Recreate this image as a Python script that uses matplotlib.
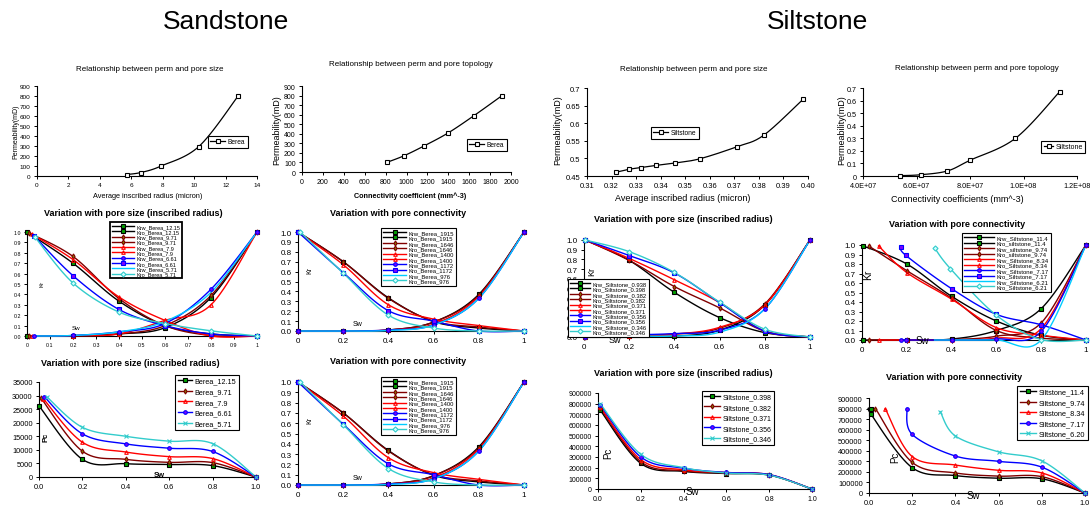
import numpy as np
import matplotlib
matplotlib.use("Agg")
import matplotlib.pyplot as plt
from matplotlib.lines import Line2D
from matplotlib.ticker import FixedLocator, FuncFormatter

plt.rcParams['font.family'] = ['Liberation Sans', 'DejaVu Sans']

W, H = 1090, 510

# ---------------- data ----------------
# row 1: permeability vs pore size / topology
berea_radius = [5.71, 6.61, 7.9, 10.3, 12.8]
berea_perm_r = [15, 35, 100, 295, 800]
berea_conn = [810, 976, 1172, 1400, 1646, 1915]
berea_perm_c = [100, 170, 275, 410, 590, 800]
silt_radius = [0.322, 0.327, 0.332, 0.338, 0.346, 0.356, 0.371, 0.382, 0.398]
silt_perm_r = [0.461, 0.469, 0.474, 0.480, 0.487, 0.499, 0.533, 0.566, 0.668]
silt_conn = [5.4e7, 6.15e7, 7.15e7, 8.0e7, 9.7e7, 1.135e8]
silt_perm_c = [0.003, 0.01, 0.04, 0.125, 0.30, 0.67]

# Berea, Kr vs pore size
bs_names = ['12.15', '9.71', '7.9', '6.61', '5.71']
bs_sw = [[0.0, 0.2, 0.4, 0.6, 0.8, 1.0],
         [0.01, 0.2, 0.4, 0.6, 0.8, 1.0],
         [0.02, 0.2, 0.4, 0.6, 0.8, 1.0],
         [0.03, 0.2, 0.4, 0.6, 0.8, 1.0],
         [0.035, 0.2, 0.4, 0.6, 0.8, 1.0]]
bs_krw = [[0, 0.003, 0.02, 0.08, 0.37, 1.0],
          [0, 0.003, 0.02, 0.10, 0.39, 1.0],
          [0, 0.003, 0.02, 0.15, 0.30, 1.0],
          [0, 0.005, 0.04, 0.12, 0.45, 1.0],
          [0, 0.005, 0.04, 0.14, 0.42, 1.0]]
bs_kro = [[1.0, 0.70, 0.335, 0.10, 0.02, 0],
          [0.99, 0.765, 0.36, 0.10, 0.005, 0],
          [0.98, 0.735, 0.375, 0.15, 0.0, 0],
          [0.965, 0.58, 0.255, 0.10, 0.02, 0],
          [0.95, 0.51, 0.23, 0.12, 0.05, 0]]

# Berea, Kr vs connectivity
bc_names = ['1915', '1646', '1400', '1172', '976']
bc_sw = [[0.0, 0.2, 0.4, 0.6, 0.8, 1.0],
         [0.0, 0.2, 0.4, 0.6, 0.8, 1.0],
         [0.0, 0.2, 0.4, 0.6, 0.8, 1.0],
         [0.0, 0.2, 0.4, 0.6, 0.8, 1.0],
         [0.01, 0.2, 0.4, 0.6, 0.8, 1.0]]
bc_krw = [[0, 0, 0.01, 0.09, 0.37, 1.0],
          [0, 0, 0.01, 0.09, 0.36, 1.0],
          [0, 0, 0.01, 0.07, 0.35, 1.0],
          [0, 0, 0.01, 0.06, 0.33, 1.0],
          [0, 0, 0.005, 0.06, 0.33, 1.0]]
bc_kro = [[1.0, 0.70, 0.335, 0.095, 0.03, 0],
          [1.0, 0.70, 0.33, 0.10, 0.04, 0],
          [1.0, 0.67, 0.265, 0.12, 0.055, 0],
          [1.0, 0.59, 0.205, 0.10, 0.0, 0],
          [1.0, 0.585, 0.16, 0.03, 0.0, 0]]

# Siltstone, Kr vs pore size
ss_krw_names = ['0.938', '0.382', '0.371', '0.356', '0.346']
ss_kro_names = ['0.398', '0.382', '0.371', '0.356', '0.346']
ss_sw = [0.005, 0.2, 0.4, 0.6, 0.8, 1.0]
ss_krw = [[0, 0.01, 0.01, 0.07, 0.33, 1.0],
          [0, 0.015, 0.03, 0.09, 0.34, 1.0],
          [0, 0.015, 0.03, 0.10, 0.33, 1.0],
          [0, 0.02, 0.035, 0.07, 0.29, 1.0],
          [0, 0.01, 0.01, 0.05, 0.29, 1.0]]
ss_kro = [[1.0, 0.79, 0.46, 0.20, 0.045, 0],
          [1.0, 0.79, 0.52, 0.30, 0.06, 0],
          [1.0, 0.81, 0.59, 0.355, 0.06, 0],
          [1.0, 0.84, 0.66, 0.355, 0.06, 0],
          [1.0, 0.88, 0.665, 0.36, 0.08, 0]]

# Siltstone, Kr vs connectivity
sc_krw_names = ['Krw_Siltstone_11.4', 'Krw_siltstone_9.74', 'Krw_Siltstone_8.34',
                'Krw_Siltstone_7.17', 'Krw_Siltstone_6.21']
sc_kro_names = ['Kro_siltstone_11.4', 'Kro_siltstone_9.74', 'Kro_Siltstone_8.34',
                'Kro_Siltstone_7.17', 'Kro_Siltstone_6.21']
sc_sw = [[0.005, 0.2, 0.4, 0.6, 0.8, 1.0],
         [0.03, 0.2, 0.4, 0.6, 0.8, 1.0],
         [0.074, 0.2, 0.4, 0.6, 0.8, 1.0],
         [0.174, 0.196, 0.4, 0.6, 0.8, 1.0],
         [0.324, 0.395, 0.6, 0.8, 1.0]]
sc_krw = [[0, 0, 0.01, 0.10, 0.33, 1.0],
          [0, 0, 0.005, 0.04, 0.18, 1.0],
          [0, 0, 0.0, 0.02, 0.12, 1.0],
          [0, 0, 0, 0.01, 0.09, 1.0],
          [0, 0, 0, 0.0, 1.0]]
sc_kro = [[0.99, 0.80, 0.46, 0.20, 0.05, 0],
          [0.99, 0.73, 0.44, 0.10, 0.02, 0],
          [0.99, 0.71, 0.43, 0.13, 0.05, 0],
          [0.98, 0.89, 0.54, 0.27, 0.16, 0],
          [0.97, 0.75, 0.26, 0.005, 0]]

# Berea, Pc vs pore size
bp_sw = [[0.0, 0.2, 0.4, 0.6, 0.8, 1.0],
         [0.01, 0.2, 0.4, 0.6, 0.8, 1.0],
         [0.02, 0.2, 0.4, 0.6, 0.8, 1.0],
         [0.025, 0.2, 0.4, 0.6, 0.8, 1.0],
         [0.035, 0.2, 0.4, 0.6, 0.8, 1.0]]
bp_pc = [[26200, 6500, 4900, 4600, 4200, 0],
         [29000, 9500, 6500, 5400, 5300, 0],
         [28800, 12800, 9200, 7500, 6800, 0],
         [29500, 15900, 12200, 10600, 9400, 0],
         [29600, 18300, 15000, 13200, 12300, 0]]

# Siltstone, Pc vs pore size
sp_names = ['0.398', '0.382', '0.371', '0.356', '0.346']
sp_sw = [0.01, 0.2, 0.4, 0.6, 0.8, 1.0]
sp_pc = [[740000, 240000, 165000, 145000, 130000, 0],
         [760000, 255000, 170000, 150000, 132000, 0],
         [770000, 275000, 180000, 155000, 135000, 0],
         [790000, 300000, 195000, 155000, 135000, 0],
         [800000, 325000, 200000, 150000, 130000, 0]]

# Siltstone, Pc vs connectivity
spc_names = ['11.4', '9.74', '8.34', '7.17', '6.20']
spc_sw = [[0.01, 0.01, 0.2, 0.4, 0.6, 0.8, 1.0],
          [0.03, 0.2, 0.4, 0.6, 0.8, 1.0],
          [0.075, 0.2, 0.4, 0.6, 0.8, 1.0],
          [0.175, 0.2, 0.4, 0.6, 0.8, 1.0],
          [0.33, 0.4, 0.6, 0.8, 1.0]]
spc_pc = [[800000, 745000, 240000, 165000, 140000, 135000, 0],
          [800000, 290000, 190000, 160000, 155000, 0],
          [800000, 345000, 265000, 215000, 190000, 0],
          [800000, 555000, 350000, 300000, 245000, 0],
          [770000, 540000, 390000, 305000, 0]]

# series styles: (line colour, marker, marker face)
krw_styles = [('black', 's', '#00a000'), ('#800000', 'd', '#808000'),
              ('red', '^', 'none'), ('blue', 'o', '#8000ff'), ('#00ccff', '', 'none')]
kro_styles = [('black', 's', '#00a000'), ('#800000', 'd', '#808000'),
              ('red', '^', 'none'), ('blue', 's', '#8000ff'), ('#33cccc', 'D', '#ccffff')]
pc_styles = [('black', 's', '#00a000'), ('#800000', 'd', '#808000'),
             ('red', '^', 'none'), ('blue', 'o', '#8000ff'), ('#33cccc', 'x', '#33cccc')]

fig = plt.figure(figsize=(W / 100, H / 100), dpi=100)


def smooth(x, y, n=16):
    # Excel-like smoothed line (Bezier through the points)
    p = np.column_stack([x, y]).astype(float)
    p = np.vstack([p[0], p, p[-1]])
    out = [p[1]]
    t = np.linspace(0, 1, n + 1)[1:, None]
    for i in range(1, len(p) - 2):
        p0, p1, p2, p3 = p[i - 1], p[i], p[i + 1], p[i + 2]
        c1 = p1 + (p2 - p0) / 6
        c2 = p2 - (p3 - p1) / 6
        seg = (1 - t) ** 3 * p1 + 3 * (1 - t) ** 2 * t * c1 + 3 * (1 - t) * t ** 2 * c2 + t ** 3 * p2
        out.extend(seg)
    out = np.array(out)
    return out[:, 0], out[:, 1]


def series(ax, x, y, style, label, ms=2.6, lw=1.0):
    color, marker, mfc = style
    xs, ys = smooth(x, y)
    ax.plot(xs, ys, color=color, lw=lw, clip_on=False, zorder=3)
    if marker:
        ax.plot(x, y, ls='none', marker=marker, ms=ms, mfc=mfc, mec=color, mew=0.8,
                clip_on=False, zorder=4)
    return Line2D([], [], color=color, lw=lw, marker=marker or None, ms=ms, mfc=mfc,
                  mec=color, mew=0.8, label=label)


def make_ax(l, t, r, b, xlim, ylim, xticks, yticks, xfmt, yfmt, fs):
    ax = fig.add_axes([l / W, 1 - b / H, (r - l) / W, (b - t) / H])
    ax.patch.set_alpha(0)
    for s in ['top', 'right']:
        ax.spines[s].set_visible(False)
    for s in ['left', 'bottom']:
        ax.spines[s].set_linewidth(0.8)
    ax.set_xlim(*xlim)
    ax.set_ylim(*ylim)
    ax.xaxis.set_major_locator(FixedLocator(xticks))
    ax.yaxis.set_major_locator(FixedLocator(yticks))
    ax.xaxis.set_major_formatter(FuncFormatter(lambda v, p: xfmt(v)))
    ax.yaxis.set_major_formatter(FuncFormatter(lambda v, p: yfmt(v)))
    ax.tick_params(direction='out', length=2.5, width=0.7, labelsize=fs, pad=2)
    return ax


def legend(ax, handles, x, y, fs, spacing=0.05, hl=2.6, lw=0.8, loc='upper left', tp=0.4):
    leg = ax.legend(handles=handles, loc=loc, bbox_to_anchor=(x / W, 1 - y / H),
                    bbox_transform=fig.transFigure, borderaxespad=0, fontsize=fs,
                    frameon=True, fancybox=False, edgecolor='black', framealpha=1,
                    labelspacing=spacing, handlelength=hl, handletextpad=tp,
                    borderpad=0.35, numpoints=1)
    leg.get_frame().set_linewidth(lw)
    leg.set_zorder(10)
    return leg


def ftext(x, y, s, fs, **kw):
    fig.text(x / W, 1 - y / H, s, fontsize=fs, ha='center', va='center', **kw)


fg = lambda v: '%g' % v
f1 = lambda v: '%.1f' % v
fd = lambda v: '%d' % v
fe = lambda v: '{:.1E}'.format(v)

ftext(226, 22, 'Sandstone', 19)
ftext(817, 22, 'Siltstone', 19)

# ---------- row 1 ----------
ax = make_ax(37, 87, 257, 177, (0, 14), (0, 900), range(0, 15, 2), range(0, 901, 100), fd, fd, 4.6)
h = series(ax, berea_radius, berea_perm_r, ('black', 's', 'white'), 'Berea', lw=0.9)
legend(ax, [h], 208, 137, 4.8, hl=2.2)
ftext(150, 70, 'Relationship between perm and pore size', 5.8)
ftext(148, 197, 'Average inscribed radius (micron)', 5.3)
ftext(16, 132, 'Permeability(mD)', 5, rotation=90)

ax = make_ax(302, 87, 511, 173, (0, 2000), (0, 900), range(0, 2001, 200), range(0, 901, 100), fd, fd, 5)
h = series(ax, berea_conn, berea_perm_c, ('black', 's', 'white'), 'Berea', lw=0.9)
legend(ax, [h], 467, 140, 4.8, hl=2.2)
ftext(411, 65, 'Relationship between perm and pore topology', 5.8)
ftext(410, 196, 'Connectivity coefficient (mm^-3)', 5.2, weight='bold')
ftext(277, 130, 'Permeability(mD)', 6.5, rotation=90)

ax = make_ax(587, 89, 808, 177, (0.31, 0.40), (0.45, 0.7), np.arange(0.31, 0.4001, 0.01),
             np.arange(0.45, 0.7001, 0.05), lambda v: '%.2f' % v, fg, 5.5)
h = series(ax, silt_radius, silt_perm_r, ('black', 's', 'white'), 'Siltstone', lw=0.9)
legend(ax, [h], 651, 128, 4.8, hl=2.2)
ftext(694, 70, 'Relationship between perm and pore size', 5.8)
ftext(683, 199, 'Average inscribed radius (micron)', 6.5)
ftext(558, 130, 'Permeability(mD)', 6.5, rotation=90)

ax = make_ax(863, 89, 1077, 177, (4e7, 1.2e8), (0, 0.7), np.arange(4e7, 1.21e8, 2e7),
             np.arange(0, 0.7001, 0.1), fe, fg, 5.2)
h = series(ax, silt_conn, silt_perm_c, ('black', 's', 'white'), 'Siltstone', lw=0.9)
legend(ax, [h], 1085, 142, 5.0, hl=1.4, loc='upper right', tp=0.25)
ftext(977, 68, 'Relationship between perm and pore topology', 5.8)
ftext(957, 200, 'Connectivity coefficients (mm^-3)', 6.5)
ftext(842, 130, 'Permeability(mD)', 6.5, rotation=90)

# ---------- row 2 ----------
ax = make_ax(27, 233, 257, 337, (0, 1), (0, 1), np.arange(0, 1.001, 0.1),
             np.arange(0, 1.001, 0.1), fg, f1, 3.8)
hs = []
for i, nm in enumerate(bs_names):
    hs.append(series(ax, bs_sw[i], bs_krw[i], krw_styles[i], 'Krw_Berea_' + nm))
    hs.append(series(ax, bs_sw[i], bs_kro[i], kro_styles[i], 'Kro_Berea_' + nm))
legend(ax, hs, 110, 223, 4.0, lw=1.3, hl=4.0)
ftext(133, 213, 'Variation with pore size (inscribed radius)', 6.5, weight='bold')
ftext(42, 284, 'Kr', 4.5, rotation=90)
ftext(76, 329, 'Sw', 4.5)


def berea_conn_panel(l, t, r, b, ty, leg_y):
    ax = make_ax(l, t, r, b, (0, 1), (0, 1), np.arange(0, 1.001, 0.2),
                 np.arange(0, 1.001, 0.1), fg, f1, 5.8)
    hs = []
    for i, nm in enumerate(bc_names):
        hs.append(series(ax, bc_sw[i], bc_krw[i], krw_styles[i], 'Krw_Berea_' + nm))
        hs.append(series(ax, bc_sw[i], bc_kro[i], kro_styles[i], 'Kro_Berea_' + nm))
    legend(ax, hs, 381, leg_y, 4.2, hl=4.0)
    ftext(398, ty, 'Variation with pore connectivity', 6.5, weight='bold')
    ftext(310, t + 37, 'Kr', 5, rotation=90)
    ftext(358, b - 7, 'Sw', 5)


berea_conn_panel(298, 233, 524, 332, 213, 229)

ax = make_ax(584, 241, 810, 338, (0, 1), (0, 1), np.arange(0, 1.001, 0.2),
             np.arange(0, 1.001, 0.1), fg, f1, 5.8)
hs = []
for i in range(5):
    hs.append(series(ax, ss_sw, ss_krw[i], krw_styles[i], 'Krw_Siltstone_' + ss_krw_names[i]))
    hs.append(series(ax, ss_sw, ss_kro[i], kro_styles[i], 'Kro_Siltstone_' + ss_kro_names[i]))
legend(ax, hs, 568, 280, 4.2, hl=3.4)
ftext(683, 220, 'Variation with pore size (inscribed radius)', 6.5, weight='bold')
ftext(592, 272, 'Kr', 6.5, rotation=90)
ftext(615, 341, 'Sw', 6.5)

ax = make_ax(862, 246, 1086, 341, (0, 1), (0, 1), np.arange(0, 1.001, 0.2),
             np.arange(0, 1.001, 0.1), fg, f1, 5.8)
hs = []
for i in range(5):
    hs.append(series(ax, sc_sw[i], sc_krw[i], krw_styles[i], sc_krw_names[i]))
    hs.append(series(ax, sc_sw[i], sc_kro[i], kro_styles[i], sc_kro_names[i]))
legend(ax, hs, 962, 234, 4.3, hl=5)
ftext(957, 225, 'Variation with pore connectivity', 6.5, weight='bold')
ftext(868, 275, 'Kr', 7.5, rotation=90)
ftext(922, 341, 'Sw', 7)

# ---------- row 3 ----------
ax = make_ax(39, 383, 256, 478, (0, 1), (0, 35000), np.arange(0, 1.001, 0.2),
             range(0, 35001, 5000), f1, fd, 5.3)
hs = [series(ax, bp_sw[i], bp_pc[i], pc_styles[i], 'Berea_' + nm) for i, nm in enumerate(bs_names)]
legend(ax, hs, 175, 376, 5.2, spacing=0.5, hl=2.0)
ftext(130, 363, 'Variation with pore size (inscribed radius)', 6.5, weight='bold')
ftext(46, 437, 'Pc', 5.5, rotation=90, weight='bold')
ftext(159, 476, 'Sw', 5.5, weight='bold')

berea_conn_panel(298, 383, 524, 486, 361, 378)

ax = make_ax(598, 394, 812, 490, (0, 1), (0, 900000), np.arange(0, 1.001, 0.2),
             range(0, 900001, 100000), f1, fd, 5.0)
hs = [series(ax, sp_sw, sp_pc[i], pc_styles[i], 'Siltstone_' + nm) for i, nm in enumerate(sp_names)]
legend(ax, hs, 702, 392, 5.0, spacing=0.5, hl=2.2)
ftext(683, 374, 'Variation with pore size (inscribed radius)', 6.5, weight='bold')
ftext(608, 453, 'Pc', 7, rotation=90)
ftext(692, 492, 'Sw', 7)

ax = make_ax(869, 399, 1085, 494, (0, 1), (0, 900000), np.arange(0, 1.001, 0.2),
             range(0, 900001, 100000), f1, fd, 5.3)
hs = [series(ax, spc_sw[i], spc_pc[i], pc_styles[i], 'Siltstone_' + nm) for i, nm in enumerate(spc_names)]
legend(ax, hs, 1088, 387, 5.3, spacing=0.45, hl=2.2, loc='upper right')
ftext(954, 378, 'Variation with pore connectivity', 6.5, weight='bold')
ftext(895, 457, 'Pc', 7, rotation=90)
ftext(973, 496, 'Sw', 7)

fig.savefig('out.png', dpi=100)
